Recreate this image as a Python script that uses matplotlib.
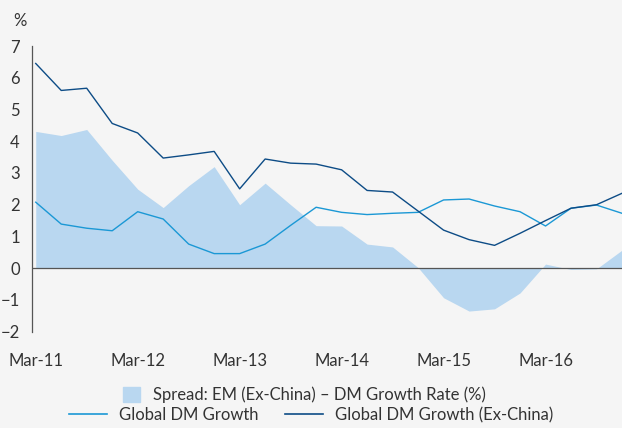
import matplotlib
matplotlib.use("Agg")
import matplotlib.pyplot as plt
from matplotlib.patches import Patch
from matplotlib.lines import Line2D
import numpy as np

# quarterly, Mar-11 .. Dec-16
quarters = np.arange(24)
tick_pos = [0, 4, 8, 12, 16, 20]
tick_labels = ["Mar-11", "Mar-12", "Mar-13", "Mar-14", "Mar-15", "Mar-16"]

spread = [4.31, 4.18, 4.37, 3.40, 2.49, 1.91, 2.60, 3.20, 2.00, 2.68, 2.00, 1.34,
          1.33, 0.76, 0.67, 0.02, -0.93, -1.35, -1.28, -0.78, 0.13, -0.04, -0.02, 0.57]
dm_growth = [2.08, 1.39, 1.26, 1.18, 1.78, 1.55, 0.76, 0.46, 0.46, 0.76, 1.35, 1.92,
             1.76, 1.69, 1.73, 1.76, 2.15, 2.18, 1.96, 1.78, 1.33, 1.89, 1.99, 1.73]
dm_ex_china = [6.45, 5.60, 5.67, 4.56, 4.26, 3.47, 3.57, 3.68, 2.50, 3.44, 3.31, 3.28,
               3.10, 2.45, 2.40, 1.80, 1.20, 0.90, 0.72, 1.10, 1.50, 1.89, 2.00, 2.36]

bg = "#f5f5f5"
fill_col = "#b9d7f0"
light_col = "#1b98d5"
dark_col = "#0d4c86"
txt_col = "#333333"

plt.rcParams['font.family'] = ['Lato', 'DejaVu Sans']

fig = plt.figure(figsize=(6.22, 4.28), dpi=100, facecolor=bg)
ax = fig.add_axes([0.052, 0.225, 0.948, 0.6675], facecolor=bg)

ax.fill_between(quarters, spread, 0, color=fill_col, linewidth=0)
ax.plot(quarters, dm_growth, color=light_col, lw=1.0)
ax.plot(quarters, dm_ex_china, color=dark_col, lw=1.0)
ax.axhline(0, color="#555555", lw=0.9)

ax.set_xlim(-0.133, 23)
ax.set_ylim(-2, 7)
ax.set_yticks(range(-2, 8))
ax.set_xticks(tick_pos)
ax.set_xticklabels(tick_labels)
ax.tick_params(axis='both', length=0, labelsize=12, colors=txt_col)
ax.tick_params(axis='y', pad=9)
ax.tick_params(axis='x', pad=15)

for s in ['top', 'right', 'bottom']:
    ax.spines[s].set_visible(False)
ax.spines['left'].set_color("#555555")
ax.spines['left'].set_linewidth(0.9)

fig.text(0.022, 0.952, "%", fontsize=12, color=txt_col, va='center')

fig.legend(handles=[Patch(color=fill_col, label="Spread: EM (Ex-China) \u2013 DM Growth Rate (%)")],
           loc='center', bbox_to_anchor=(0.49, 0.077), frameon=False, fontsize=12,
           handlelength=1.0, handleheight=1.0, labelcolor=txt_col, handletextpad=0.8)
fig.legend(handles=[Line2D([], [], color=light_col, lw=1.2, label="Global DM Growth"),
                    Line2D([], [], color=dark_col, lw=1.2, label="Global DM Growth (Ex-China)")],
           loc='center', bbox_to_anchor=(0.5, 0.03), ncol=2, frameon=False, fontsize=12,
           handlelength=2.3, labelcolor=txt_col, columnspacing=1.6, handletextpad=0.7)

fig.savefig("out.png", dpi=100, facecolor=bg)
